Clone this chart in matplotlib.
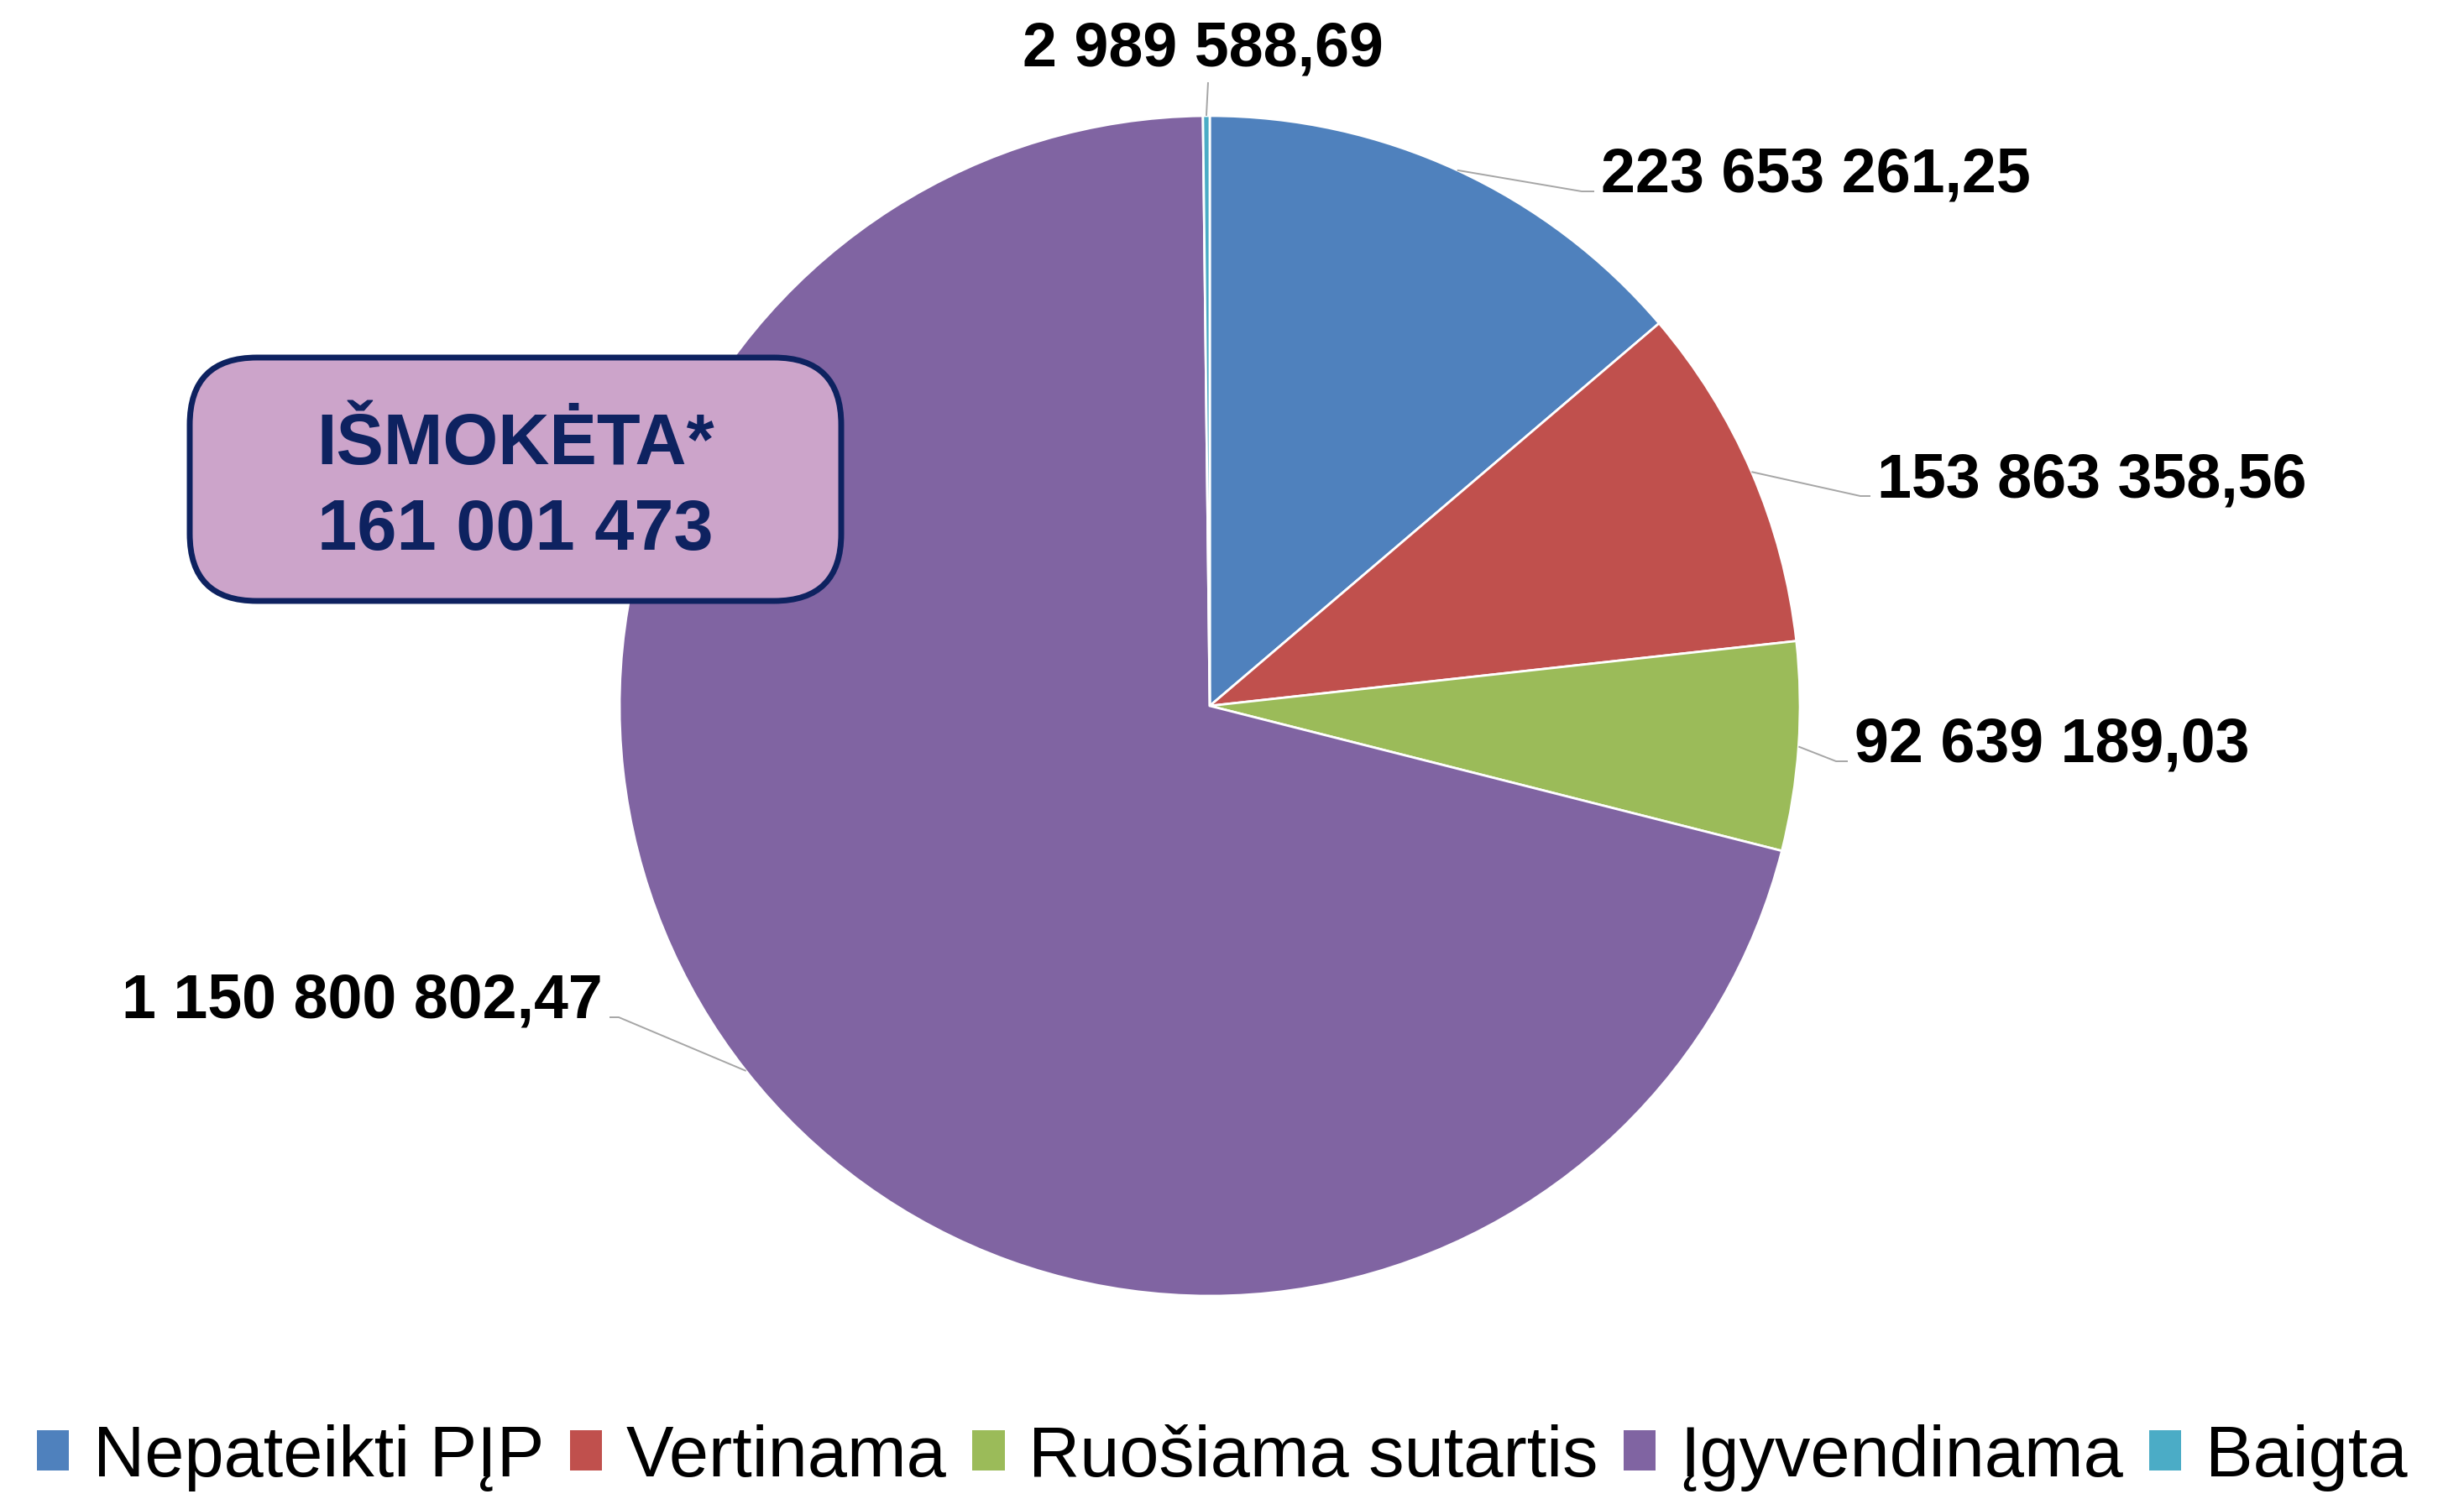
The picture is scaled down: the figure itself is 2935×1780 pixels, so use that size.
import numpy as np
import matplotlib.pyplot as plt
from matplotlib.patches import FancyBboxPatch

categories = ['Nepateikti PĮP', 'Vertinama', 'Ruošiama sutartis', 'Įgyvendinama', 'Baigta']
values = [223653261.25, 153863358.56, 92639189.03, 1150800802.47, 2989588.69]
value_labels = ['223 653 261,25', '153 863 358,56', '92 639 189,03', '1 150 800 802,47', '2 989 588,69']
colors = ['#4F81BD', '#C0504D', '#9BBB59', '#8064A2', '#4BACC6']
box_title = 'IŠMOKĖTA*'
box_value = '161 001 473'

plt.rcParams['font.family'] = ['Liberation Sans', 'DejaVu Sans']

W, H = 2935, 1781
fig = plt.figure(figsize=(W / 100, H / 100), dpi=100)
ax = fig.add_axes([0, 0, 1, 1])

cx, cy, R = 1441, H - 842, 703
wedges, _ = ax.pie(values, colors=colors, startangle=90, counterclock=False,
                   center=(cx, cy), radius=R,
                   wedgeprops=dict(edgecolor='white', linewidth=2))
ax.set_xlim(0, W)
ax.set_ylim(0, H)
ax.set_aspect('equal')
ax.axis('off')

# leader line bend / end points in pixels (y from top) and label side
anchors = [((1884, 229), (1899, 229), 'left'),
           ((2216, 592), (2228, 592), 'left'),
           ((2187, 908), (2201, 908), 'left'),
           ((737, 1213), (726, 1213), 'right'),
           ((1439, 99), (1439, 99), 'center')]

lc = '#A6A6A6'
for w, lab, (p1, p2, side) in zip(wedges, value_labels, anchors):
    ang = np.deg2rad((w.theta1 + w.theta2) / 2)
    sx, sy = cx + R * np.cos(ang), cy + R * np.sin(ang)
    ax.plot([sx, p1[0], p2[0]], [sy, H - p1[1], H - p2[1]], color=lc, lw=1.4,
            solid_capstyle='butt', zorder=1)
    if side == 'left':
        ax.text(p2[0] + 8, H - p2[1], lab, ha='left', va='baseline',
                fontsize=53, fontweight='bold', color='black')
    elif side == 'right':
        ax.text(p2[0] - 8, H - p2[1], lab, ha='right', va='baseline',
                fontsize=53, fontweight='bold', color='black')
    else:
        ax.text(1433, H - 78, lab, ha='center', va='baseline',
                fontsize=53, fontweight='bold', color='black')

# rounded box
bx0, bx1, by0, by1 = 226, 1002, 427, 717
box = FancyBboxPatch((bx0 + 80, H - by1 + 80), (bx1 - bx0) - 160, (by1 - by0) - 160,
                     boxstyle='round,pad=80', facecolor='#CCA4CA', edgecolor='#0E2260',
                     linewidth=5, zorder=5)
ax.add_patch(box)
ax.text(614, H - 553, box_title, ha='center', va='baseline', fontsize=61,
        fontweight='bold', color='#0E2260', zorder=6)
ax.text(614, H - 655, box_value, ha='center', va='baseline', fontsize=61,
        fontweight='bold', color='#0E2260', zorder=6)

leg = fig.legend(wedges, categories, loc='lower center', bbox_to_anchor=(0.496, -0.017),
                 ncol=5, frameon=False, fontsize=61, handlelength=0.45, handleheight=0.5,
                 handletextpad=0.34, columnspacing=0.36, borderaxespad=0)
for h in leg.legend_handles:
    h.set_edgecolor('none')

fig.savefig('out.png', dpi=100)
